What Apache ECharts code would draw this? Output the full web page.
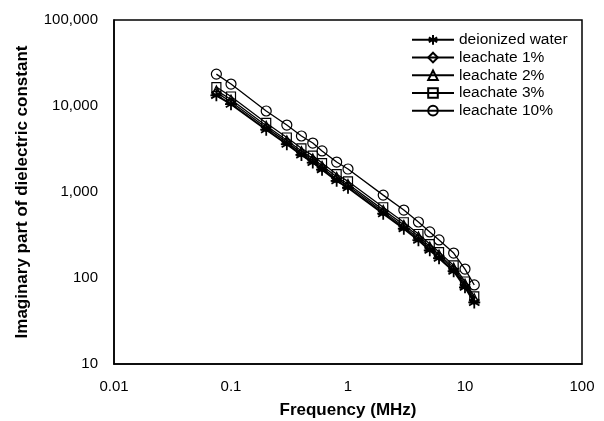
<!DOCTYPE html>
<html><head><meta charset="utf-8">
<script src="https://cdn.jsdelivr.net/npm/echarts@6/dist/echarts.min.js"></script>
<style>html,body{margin:0;padding:0;background:#fff}#c{width:604px;height:421px}</style>
</head><body><div id="c"></div>
<script>
const frequencies = [0.075, 0.1, 0.2, 0.3, 0.4, 0.5, 0.6, 0.8, 1, 2, 3, 4, 5, 6, 8, 10, 12];
const seriesNames = ['deionized water', 'leachate 1%', 'leachate 2%', 'leachate 3%', 'leachate 10%'];
const water = [13300, 10500, 5300, 3600, 2700, 2200, 1820, 1350, 1120, 560, 375, 275, 210, 170, 120, 78, 52];
const leach1 = [14300, 11200, 5600, 3800, 2850, 2330, 1920, 1420, 1180, 590, 395, 290, 222, 180, 126, 82, 55];
const leach2 = [15200, 11900, 5900, 4000, 3000, 2460, 2020, 1500, 1240, 620, 415, 305, 232, 188, 132, 86, 58];
const leach3 = [16600, 12900, 6350, 4300, 3220, 2650, 2170, 1610, 1330, 665, 445, 325, 248, 200, 140, 91, 61];
const leach10 = [23500, 18000, 8750, 6000, 4480, 3710, 3000, 2230, 1850, 920, 617, 448, 343, 277, 195, 127, 83];
const xTicks = [0.01, 0.1, 1, 10, 100];
const yTicks = [10, 100, 1000, 10000, 100000];

const allValues = [water, leach1, leach2, leach3, leach10];
const asterisk = 'path://M0,-10L0,10M-8.66,-5L8.66,5M-8.66,5L8.66,-5M-10,0L10,0';
const symbols = [asterisk, 'diamond', 'triangle', 'rect', 'circle'];
const sizes = [12, 8, 9, 9, 10];
const font = 'Liberation Sans, Arial, sans-serif';

const chart = echarts.init(document.getElementById('c'), null, {renderer: 'canvas'});
chart.setOption({
  animation: false,
  backgroundColor: '#fff',
  textStyle: {fontFamily: font, color: '#000'},
  grid: {left: 114, top: 20, width: 468, height: 344, containLabel: false, outerBoundsMode: 'none',
    show: true, borderColor: '#000', borderWidth: 1.5, backgroundColor: 'transparent'},
  legend: {
    orient: 'vertical', left: 406, top: 29, itemWidth: 42, itemHeight: 12, itemGap: 0, padding: [2, 5],
    textStyle: {fontFamily: font, fontSize: 15.5, color: '#000', lineHeight: 17.7},
    data: seriesNames
  },
  xAxis: {
    type: 'log', logBase: 10, min: xTicks[0], max: xTicks[xTicks.length - 1],
    name: 'Frequency (MHz)', nameLocation: 'middle', nameGap: 38,
    nameTextStyle: {fontFamily: font, fontSize: 17, fontWeight: 'bold', color: '#000'},
    axisLine: {show: true, lineStyle: {color: '#000', width: 1.5}},
    axisTick: {show: false}, minorTick: {show: false}, splitLine: {show: false},
    axisLabel: {fontFamily: font, fontSize: 15, color: '#000', margin: 15,
      formatter: v => { const t = xTicks.find(x => Math.abs(Math.log10(x) - Math.log10(v)) < 1e-6); return t !== undefined ? String(t) : ''; }}
  },
  yAxis: {
    type: 'log', logBase: 10, min: yTicks[0], max: yTicks[yTicks.length - 1],
    name: 'Imaginary part of dielectric constant', nameLocation: 'middle', nameGap: 83, nameRotate: 90,
    nameTextStyle: {fontFamily: font, fontSize: 17, fontWeight: 'bold', color: '#000'},
    axisLine: {show: true, lineStyle: {color: '#000', width: 1.5}},
    axisTick: {show: false}, minorTick: {show: false}, splitLine: {show: false},
    axisLabel: {fontFamily: font, fontSize: 15, color: '#000', margin: 16,
      formatter: v => { const t = yTicks.find(y => Math.abs(Math.log10(y) - Math.log10(v)) < 1e-6); return t !== undefined ? t.toLocaleString('en-US') : ''; }}
  },
  series: seriesNames.map((name, i) => ({
    name: name, type: 'line',
    data: frequencies.map((f, j) => [f, allValues[i][j]]),
    symbol: symbols[i], symbolSize: sizes[i], symbolKeepAspect: true, showSymbol: true,
    lineStyle: {color: '#000', width: i === 0 ? 2 : 1.3},
    itemStyle: {color: i === 0 ? '#000' : 'rgba(255,255,255,0)', borderColor: '#000', borderWidth: i === 0 ? 1.8 : 1.2},
    z: 10 - i
  }))
});
</script></body></html>
